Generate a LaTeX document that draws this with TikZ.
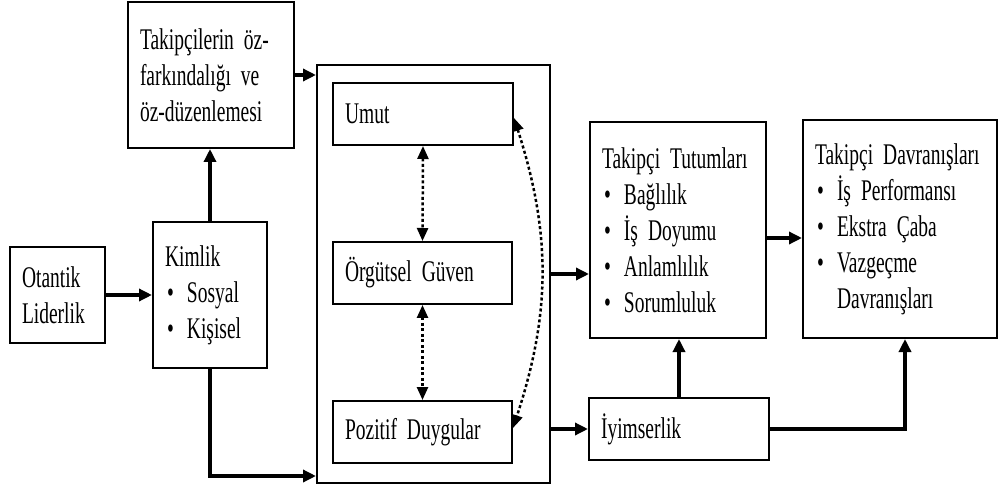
\documentclass[tikz,border=0pt]{standalone}
\usepackage{fontspec}
\setmainfont{Liberation Serif}[FakeStretch=0.65]
\usepackage{tikz}
\usetikzlibrary{calc}
\usetikzlibrary{arrows.meta}
\usetikzlibrary{positioning}
\DeclareRobustCommand{\kutuyazi}{\fontsize{30}{36}\selectfont\spaceskip=6pt plus 1pt minus 1pt\relax}
\tikzset{blok/.style={draw=black,line width=2pt,align=left,inner xsep=12pt,inner ysep=0pt,font=\kutuyazi}}
\tikzset{ok/.style={line width=3.5pt,-{Triangle[length=13pt,width=12pt]}}}
\tikzset{nokta/.style={line width=2.5pt,dash pattern=on 3pt off 2.5pt,{Triangle[length=13pt,width=11pt]}-{Triangle[length=13pt,width=11pt]}}}
\newcommand{\mdd}[1]{\makebox[22pt][l]{\hspace{2pt}\textbullet}#1}

\begin{document}
\begin{tikzpicture}[x=1pt,y=1pt]
\useasboundingbox (0,0) rectangle (1000,490);

\node[blok,text width=142pt,minimum height=146pt] (takip) at (211,415) {Takip\c{c}ilerin \"oz-\\fark\i ndal\i\u{g}\i\hspace*{10pt}ve\\\"oz-d\"uzenlemesi};
\node[blok,text width=71pt,minimum height=96pt] (otantik) at (57.5,195) {Otantik\\Liderlik};
\node[blok,text width=90pt,minimum height=146pt] (kimlik) at (210,195) {Kimlik\\\mdd{Sosyal}\\\mdd{Ki\c{s}isel}};

\node[blok,minimum width=233pt,minimum height=418pt] (dis) at (433.5,216) {};
\node[blok,text width=156pt,minimum height=62pt] (umut) at (423,376) {Umut};
\node[blok,text width=155pt,minimum height=62pt] (guven) at (422.5,217) {\"Org\"utsel G\"uven};
\node[blok,text width=155pt,minimum height=62pt] (pozitif) at (422.5,58) {Pozitif Duygular};

\node[blok,text width=152pt,minimum height=216pt] (tutum) at (678,260) {Takip\c{c}i\hspace*{10pt}Tutumlar\i\\\mdd{Ba\u{g}l\i l\i k}\\\mdd{\.I\c{s} Doyumu}\\\mdd{Anlaml\i l\i k}\\\mdd{Sorumluluk}};
\node[blok,text width=170pt,minimum height=218pt] (davran) at (900,261) {Takip\c{c}i Davran\i\c{s}lar\i\\\mdd{\.I\c{s} Performans\i}\\\mdd{Ekstra \c{C}aba}\\\mdd{Vazge\c{c}me}\\\hspace*{22pt}Davran\i\c{s}lar\i};
\node[blok,text width=156pt,minimum height=62pt] (iyimser) at (679,61) {\.Iyimserlik};

\draw[ok] (otantik.east) -- (kimlik.west);
\draw[ok] (kimlik.north) -- (kimlik.north |- takip.south);
\draw[ok] (takip.east) -- (takip.east -| dis.west);
\draw[ok] (kimlik.south) |- ([yshift=8pt]dis.south west);
\draw[ok] (dis.east) -- (dis.east -| tutum.west);
\draw[ok] (dis.east |- iyimser.west) -- (iyimser.west);
\draw[ok] (iyimser.north) -- (iyimser.north |- tutum.south);
\draw[ok] (iyimser.east) -| ([xshift=5pt]davran.south);
\draw[ok] (tutum.east |- 0,252) -- (davran.west |- 0,252);

\foreach \a / \b in {umut/guven,guven/pozitif}
{
	\draw[nokta] (\a.south) -- (\b.north);
}
\draw[nokta] ([yshift=-4pt]umut.east) to[bend left=18] ([yshift=4pt]pozitif.east);
\end{tikzpicture}
\end{document}
